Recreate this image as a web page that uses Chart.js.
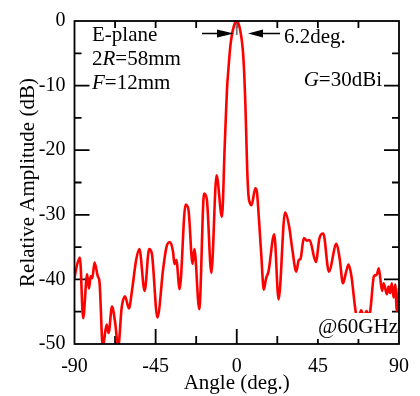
<!DOCTYPE html>
<html>
<head>
<meta charset="utf-8">
<script src="https://cdn.jsdelivr.net/npm/chart.js@4.4.0/dist/chart.umd.min.js"></script>
<style>
  body { margin: 0; background: #fff; }
  #wrap { width: 420px; height: 396px; }
</style>
</head>
<body>
<div id="wrap"><canvas id="chart" width="420" height="396"></canvas></div>
<script>
// Angles (deg.) et amplitude relative (dB)
const angles = [-90, -88.8, -87.0, -85.2, -83.0, -82.0, -81.0, -80.1, -78.9, -77.1, -76.1, -74.3,
  -72.2, -71.1, -69.2, -67.4, -65.8, -63.8, -62.0, -59.8, -58.0, -55.8, -54.0, -51.1, -48.6, -47.1,
  -44.0, -40.8, -39.0, -37.1, -35.3, -34.6, -33.5, -31.7, -28.4, -26.8, -24.5, -23.5, -20.8, -18.1,
  -16.6, -14.1, -11.2, -8.2, -6.7, -6.0, -5.4, -4.5, -3.6, -2.6, -1.6, -0.8, 0, 0.8, 1.6, 2.6, 3.4,
  4.2, 4.8, 5.3, 5.8, 6.5, 7.3, 8.2, 10.3, 11.2, 12.2, 13.6, 15.0, 16.3, 17.6, 20.8, 23.2, 26.8,
  29.0, 30.8, 33.0, 34.4, 35.4, 37.2, 39.0, 40.4, 43.9, 45.9, 48.0, 51.1, 55.3, 57.1, 58.9, 60.7,
  62.0, 63.5, 66.2, 67.5, 69.0, 70.5, 72.0, 73.5, 74.3, 76.1, 77.6, 78.8, 80.6, 81.5, 83.3, 84.2,
  85.1, 86.0, 87.0, 87.9, 88.8, 90];
const amplitude = [-39.8, -38.0, -36.6, -46.0, -39.2, -41.4, -39.5, -39.8, -37.4, -39.5, -40.5, -50.5,
  -47.0, -48.3, -44.2, -46.8, -50.5, -44.3, -42.6, -44.5, -41.5, -37.0, -35.3, -41.8, -35.3, -36.0,
  -45.9, -38.3, -35.0, -34.2, -35.8, -37.6, -37.0, -41.5, -28.4, -29.2, -37.6, -35.3, -44.6, -26.7,
  -27.6, -39.0, -23.9, -30.3, -19.5, -14.5, -10.5, -7.0, -4.0, -2.0, -0.8, -0.2, 0, -0.3, -1.0, -2.6, -4.6,
  -8.5, -13.0, -18.0, -23.0, -27.0, -28.2, -28.5, -25.9, -26.5, -30.2, -36.2, -41.6, -39.8, -38.8, -33.0, -43.1, -29.6,
  -31.7, -35.3, -38.8, -37.0, -36.8, -33.6, -34.0, -33.9, -37.3, -33.6, -32.9, -38.8, -34.5, -36.8, -40.6, -38.8,
  -37.7, -39.3, -45.4, -46.0, -44.8, -45.8, -44.9, -45.8, -44.3, -39.5, -39.3, -38.3, -41.8, -40.6, -42.3, -41.1,
  -42.1, -40.6, -42.8, -40.8, -44.8, -41.3];

const xTicks = [-90, -45, 0, 45, 90];
const yTicks = [0, -10, -20, -30, -40, -50];

const SERIF = '"Liberation Serif", "Times New Roman", serif';

// Dessine un texte composé de morceaux droits / italiques
function drawRuns(ctx, x, y, runs, align) {
    ctx.textBaseline = 'alphabetic';
    ctx.textAlign = 'left';
    let total = 0;
    runs.forEach(r => {
        ctx.font = (r[1] ? 'italic ' : '') + '21px ' + SERIF;
        total += ctx.measureText(r[0]).width;
    });
    let cx = align === 'right' ? x - total : x;
    runs.forEach(r => {
        ctx.font = (r[1] ? 'italic ' : '') + '21px ' + SERIF;
        ctx.fillText(r[0], cx, y);
        cx += ctx.measureText(r[0]).width;
    });
    return total;
}

function arrow(ctx, x0, x1, y, headLen) {
    const dir = x1 > x0 ? 1 : -1;
    ctx.beginPath();
    ctx.moveTo(x0, y);
    ctx.lineTo(x1 - dir * headLen, y);
    ctx.stroke();
    ctx.beginPath();
    ctx.moveTo(x1, y);
    ctx.lineTo(x1 - dir * headLen, y - 4);
    ctx.lineTo(x1 - dir * headLen, y + 4);
    ctx.closePath();
    ctx.fill();
}

// Cadre et graduations vers l'intérieur
const framePlugin = {
    id: 'frame',
    beforeDatasetsDraw(chart) {
        const ctx = chart.ctx;
        const a = chart.chartArea;
        const xs = chart.scales.x, ys = chart.scales.y;
        ctx.save();
        ctx.strokeStyle = '#000';
        ctx.lineWidth = 1.8;
        ctx.beginPath();
        for (let v = -45; v < 0; v += 5) {
            const y = ys.getPixelForValue(v);
            const len = v % 10 === 0 ? 15 : 7;
            ctx.moveTo(a.left, y); ctx.lineTo(a.left + len, y);
            ctx.moveTo(a.right, y); ctx.lineTo(a.right - len, y);
        }
        for (let v = -67.5; v < 90; v += 22.5) {
            const x = xs.getPixelForValue(v);
            const len = v % 45 === 0 ? 15 : 8;
            ctx.moveTo(x, a.bottom); ctx.lineTo(x, a.bottom - len);
            ctx.moveTo(x, a.top); ctx.lineTo(x, a.top + 7);
        }
        ctx.stroke();
        // repère à 0 deg.
        ctx.strokeStyle = '#777';
        ctx.beginPath();
        ctx.moveTo(xs.getPixelForValue(0), a.top);
        ctx.lineTo(xs.getPixelForValue(0), a.top + 14);
        ctx.stroke();
        ctx.restore();
    },
    afterDatasetsDraw(chart) {
        const ctx = chart.ctx;
        const a = chart.chartArea;
        ctx.save();
        ctx.fillStyle = '#000';
        ctx.strokeStyle = '#000';
        ctx.lineWidth = 1.5;
        drawRuns(ctx, 92, 41, [['E-plane', false]]);
        drawRuns(ctx, 92, 65, [['2', false], ['R', true], ['=58mm', false]]);
        drawRuns(ctx, 92, 89, [['F', true], ['=12mm', false]]);
        drawRuns(ctx, 382, 86, [['G', true], ['=30dBi', false]], 'right');
        drawRuns(ctx, 284, 43, [['6.2deg.', false]]);
        arrow(ctx, 202, 234, 33.5, 17);
        arrow(ctx, 280, 248, 33.5, 15);
        // étiquette de fréquence sur fond blanc
        ctx.fillStyle = '#fff';
        ctx.fillRect(316, 313, 86, 26);
        ctx.fillStyle = '#000';
        drawRuns(ctx, 398, 333, [['@60GHz', false]], 'right');
        ctx.lineWidth = 1.8;
        ctx.strokeRect(a.left, a.top, a.right - a.left, a.bottom - a.top);
        ctx.restore();
    }
};

const points = angles.map((t, i) => ({ x: t, y: amplitude[i] }));

new Chart(document.getElementById('chart'), {
    type: 'scatter',
    data: {
        datasets: [{
            data: points,
            showLine: true,
            borderColor: '#ff0000',
            borderWidth: 2.6,
            pointRadius: 0,
            cubicInterpolationMode: 'monotone'
        }]
    },
    options: {
        responsive: false,
        animation: false,
        events: [],
        layout: { padding: { left: 0, right: 14, top: 14, bottom: 0 } },
        plugins: { legend: { display: false }, tooltip: { enabled: false } },
        scales: {
            x: {
                type: 'linear', min: -90, max: 90,
                afterFit: s => { s.height = 52; },
                afterBuildTicks: s => { s.ticks = xTicks.map(v => ({ value: v })); },
                grid: { display: false, drawTicks: false },
                border: { display: false },
                ticks: { color: '#000', padding: 11, maxRotation: 0, autoSkip: false,
                    font: { family: SERIF, size: 20 } },
                title: { display: true, text: 'Angle (deg.)', color: '#000',
                    padding: { top: 0, bottom: 0 }, font: { family: SERIF, size: 21 } }
            },
            y: {
                type: 'linear', min: -50, max: 0,
                afterFit: s => { s.width = 74.5; },
                afterBuildTicks: s => { s.ticks = yTicks.map(v => ({ value: v })); },
                grid: { display: false, drawTicks: false },
                border: { display: false },
                ticks: { color: '#000', padding: 9, font: { family: SERIF, size: 20 } },
                title: { display: true, text: 'Relative Amplitude (dB)', color: '#000',
                    padding: { top: 16, bottom: 0 }, font: { family: SERIF, size: 21 } }
            }
        }
    },
    plugins: [framePlugin]
});
</script>
</body>
</html>
